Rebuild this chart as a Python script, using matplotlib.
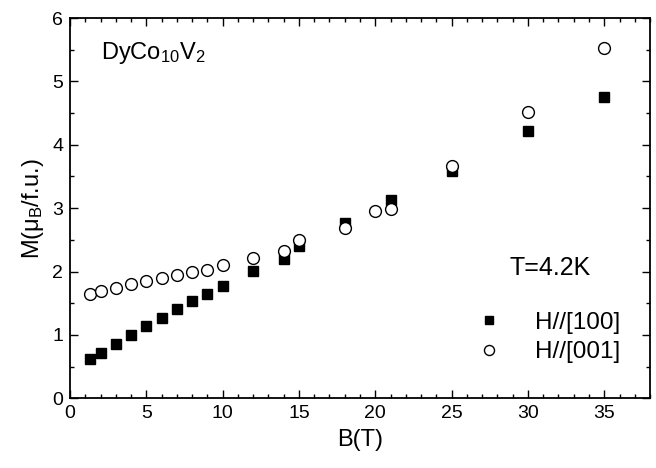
import matplotlib
matplotlib.use("Agg")
import matplotlib.pyplot as plt
from matplotlib.ticker import MultipleLocator

plt.rcParams['font.family'] = ['Liberation Sans', 'DejaVu Sans']
plt.rcParams['mathtext.fontset'] = 'custom'
plt.rcParams['mathtext.rm'] = 'Liberation Sans'
plt.rcParams['mathtext.it'] = 'Liberation Sans'

# H//[100] (filled squares)
b_100 = [1.3, 2, 3, 4, 5, 6, 7, 8, 9, 10, 12, 14, 15, 18, 21, 25, 30, 35]
m_100 = [0.62, 0.72, 0.86, 1.00, 1.14, 1.27, 1.41, 1.53, 1.64, 1.77, 2.01, 2.20, 2.40, 2.76, 3.13, 3.58, 4.21, 4.76]

# H//[001] (open circles)
b_001 = [1.3, 2, 3, 4, 5, 6, 7, 8, 9, 10, 12, 14, 15, 18, 20, 21, 25, 30, 35]
m_001 = [1.65, 1.69, 1.74, 1.80, 1.85, 1.90, 1.94, 1.99, 2.02, 2.10, 2.22, 2.32, 2.49, 2.69, 2.96, 2.98, 3.66, 4.51, 5.53]

labels = ['H//[100]', 'H//[001]']

fig = plt.figure(figsize=(6.56, 4.68), dpi=100)
ax = fig.add_axes([0.1067, 0.149, 0.8842, 0.8125])

ax.plot(b_100, m_100, linestyle='none', marker='s', markersize=6.5,
        color='black', label=labels[0])
ax.plot(b_001, m_001, linestyle='none', marker='o', markersize=8.5,
        markerfacecolor='white', markeredgecolor='black', markeredgewidth=1.0,
        label=labels[1])

ax.set_xlim(0, 38)
ax.set_ylim(0, 6)
ax.xaxis.set_major_locator(MultipleLocator(5))
ax.xaxis.set_minor_locator(MultipleLocator(1))
ax.yaxis.set_major_locator(MultipleLocator(1))
ax.yaxis.set_minor_locator(MultipleLocator(0.5))
ax.tick_params(which='both', direction='in', top=True, right=True, labelsize=14, width=1.0)
ax.tick_params(which='major', length=5.5, pad=5)
ax.tick_params(which='minor', length=3)
for s in ax.spines.values():
    s.set_linewidth(1.3)

ax.set_xlabel('B(T)', fontsize=17, labelpad=5)
ax.set_ylabel(r'M($\mu_{\rm B}$/f.u.)', fontsize=17, labelpad=4)

ax.text(2.0, 5.45, r'DyCo$_{10}$V$_2$', fontsize=17, ha='left', va='center')
ax.text(28.8, 2.05, 'T=4.2K', fontsize=18, ha='left', va='center')

ax.legend(loc='lower right', bbox_to_anchor=(0.949, 0.092), frameon=False,
          fontsize=17.5, markerscale=0.85, handlelength=1.0, handletextpad=1.4,
          labelspacing=0.3, borderaxespad=0.0, borderpad=0.0)

fig.savefig('out.png', dpi=100)
